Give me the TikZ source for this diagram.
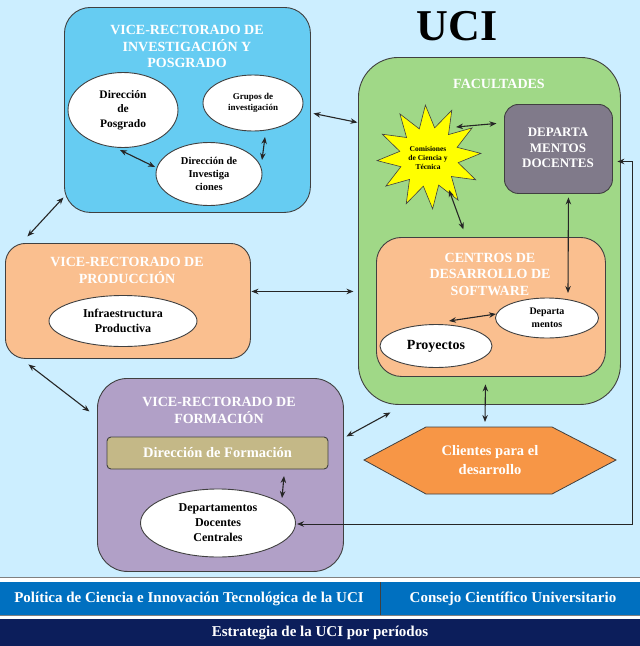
\documentclass[tikz,border=0pt]{standalone}
\usepackage{fontspec}
\setmainfont{Liberation Serif}
\usetikzlibrary{shapes.geometric,arrows.meta,calc}
\definecolor{bgblue}{HTML}{CCEEFF}
\definecolor{cinv}{HTML}{66CCF2}
\definecolor{cfac}{HTML}{A0D887}
\definecolor{cgray}{HTML}{807A8A}
\definecolor{cpeach}{HTML}{FABF8F}
\definecolor{cyel}{HTML}{FFFF00}
\definecolor{corange}{HTML}{F79646}
\definecolor{clav}{HTML}{B1A0C7}
\definecolor{ckhaki}{HTML}{C4B887}
\definecolor{cbar}{HTML}{0070C0}
\definecolor{cnavy}{HTML}{0C1E5B}
\definecolor{cline}{HTML}{404040}
\begin{document}
\begin{tikzpicture}[x=1pt,y=-1pt,
 box/.style={draw=cline, line width=0.9pt, anchor=north west, inner sep=0pt},
 ttl/.style={text=white, font=\bfseries\fontsize{14}{16.5}\selectfont, align=center},
 ell/.style={ellipse, draw=cline, line width=0.9pt, fill=white, inner sep=0pt, align=center},
 etxt/.style={font=\bfseries\fontsize{#1}{\fpeval{#1*1.25}}\selectfont},
 arr/.style={{Stealth[length=7pt,width=5.5pt]}-{Stealth[length=7pt,width=5.5pt]}, line width=1.1pt, draw=black!85},
 bartxt/.style={text=white, font=\bfseries\fontsize{15}{17}\selectfont},
]
\useasboundingbox (0,0) rectangle (640,646);
\fill[white] (0,0) rectangle (640,646);
\fill[bgblue] (0,0) rectangle (640,577);
\draw[gray, line width=1pt] (0,577.5) -- (640,577.5);
\fill[cbar] (0,582) rectangle (640,615);
\draw[black!75, line width=1pt] (380,582) -- (380,615);
\draw[gray, line width=1pt] (0,615.5) -- (640,615.5);
\fill[cnavy] (0,619) rectangle (640,646);

\node[bartxt] (pol) at (189,599) {Política de Ciencia e Innovación Tecnológica de la UCI};
\node[bartxt] (cons) at (513,599) {Consejo Científico Universitario};
\node[bartxt] (estr) at (320,633) {Estrategia de la UCI por períodos};

% title
\node[font=\bfseries\fontsize{44}{44}\selectfont] (uci) at (457,26) {UCI};

% VR Investigacion
\node[box, fill=cinv, rounded corners=26pt, minimum width=246pt, minimum height=205pt] (vri) at (64,7) {};
\node[ttl] (vrit) at (187,46.5) {VICE-RECTORADO DE\\INVESTIGACIÓN Y\\POSGRADO};
\node[ell, minimum width=110pt, minimum height=75pt, etxt=11.5] (posgrado) at (123,110) {Dirección\\de\\Posgrado};
\node[ell, minimum width=100pt, minimum height=56pt, etxt=9] (grupos) at (253,103) {Grupos de\\investigación};
\node[ell, minimum width=106pt, minimum height=63pt, etxt=10.5] (investiga) at (209,174) {Dirección de\\Investiga\\ciones};

% Facultades
\node[box, fill=cfac, rounded corners=40pt, minimum width=262pt, minimum height=347pt] (fac) at (358,57) {};
\node[ttl] (fact) at (499,84) {FACULTADES};
\node[star, star points=12, star point ratio=1.75, minimum size=104pt, draw=cline, line width=0.6pt, fill=cyel, inner sep=0pt, rotate=4] (star) at (429,157) {};
\node[etxt=7.5, align=center] (startxt) at (428,158) {Comisiones\\de Ciencia y\\Técnica};
\node[box, fill=cgray, rounded corners=14pt, minimum width=108pt, minimum height=89pt] (deptdoc) at (504,104) {};
\node[ttl, font=\bfseries\fontsize{13}{15.5}\selectfont] (deptdoct) at (558,148) {DEPARTA\\MENTOS\\DOCENTES};
\node[box, fill=cpeach, rounded corners=25pt, minimum width=229pt, minimum height=139pt] (cds) at (376,237) {};
\node[ttl] (cdst) at (490,274) {CENTROS DE\\DESARROLLO DE\\SOFTWARE};
\node[ell, minimum width=103pt, minimum height=40pt, etxt=10] (depm) at (547,318) {Departa\\mentos};
\node[ell, minimum width=112pt, minimum height=43pt, etxt=14] (proy) at (436,346) {Proyectos};

% Clientes
\draw[draw=cline, line width=0.8pt, fill=corange] (364,460) -- (426,427) -- (552,427) -- (616,460) -- (552,494) -- (426,494) -- cycle;
\node[text=white, align=center, etxt=14.5] (clientes) at (490,460) {Clientes para el\\desarrollo};

% VR Produccion
\node[box, fill=cpeach, rounded corners=20pt, minimum width=245pt, minimum height=115pt] (vrp) at (5,243) {};
\node[ttl] (vrpt) at (127,270.5) {VICE-RECTORADO DE\\PRODUCCIÓN};
\node[ell, minimum width=148pt, minimum height=51pt, etxt=12] (infra) at (123,321) {Infraestructura\\Productiva};

% VR Formacion
\node[box, fill=clav, rounded corners=30pt, minimum width=246pt, minimum height=193pt] (vrf) at (97,378) {};
\node[ttl] (vrft) at (219,410.5) {VICE-RECTORADO DE\\FORMACIÓN};
\node[draw=cline, line width=0.9pt, fill=ckhaki, rounded corners=4pt, minimum width=221pt, minimum height=32pt, inner sep=0pt, text=white, etxt=14.5] (dirf) at (217.5,453) {Dirección de Formación};
\node[ell, minimum width=155pt, minimum height=68pt, etxt=12] (ddc) at (218,523) {Departamentos\\Docentes\\Centrales};

% connectors
\draw[arr] ($(posgrado)+(-3,40)$) -- ($(investiga)+(-54,-7)$);
\draw[arr] ($(grupos)+(12,34)$) -- ($(investiga)+(53,-14)$);
\draw[arr] ($(vri)+(126,3.5)$) -- ($(fac)+(-132,-108.5)$);
\draw[arr] ($(vri)+(-124,87.5)$) -- ($(vrp)+(-100.5,-64.5)$);
\draw[arr] ($(star)+(27,-30)$) -- ($(deptdoc)+(-62,-25.5)$);
\draw[arr] ($(star)+(20,33)$) -- ($(cds)+(-27.5,-77.5)$);
\draw[arr] ($(deptdoc)+(10,48.5)$) -- ($(depm)+(21,-25)$);
\draw[arr] ($(proy)+(13,-25)$) -- ($(depm)+(-51,-4)$);
\draw[arr] ($(vrp)+(123.5,-9.5)$) -- ($(fac)+(-136,60.5)$);
\draw[arr] ($(vrp)+(-99.5,63.5)$) -- ($(vrf)+(-131,-63.5)$);
\draw[arr] ($(fac)+(-99,181.5)$) -- ($(vrf)+(126,-38.5)$);
\draw[arr] ($(fac)+(-4,153.5)$) -- ($(clientes)+(-5,-38)$);
\draw[arr] ($(dirf)+(66.5,23)$) -- ($(ddc)+(64,-25)$);
\draw[arr, line width=0.9pt] ($(ddc)+(79,1)$) -- ($(ddc)+(414,1)$) |- ($(deptdoc)+(59,12.5)$);
\end{tikzpicture}
\end{document}
